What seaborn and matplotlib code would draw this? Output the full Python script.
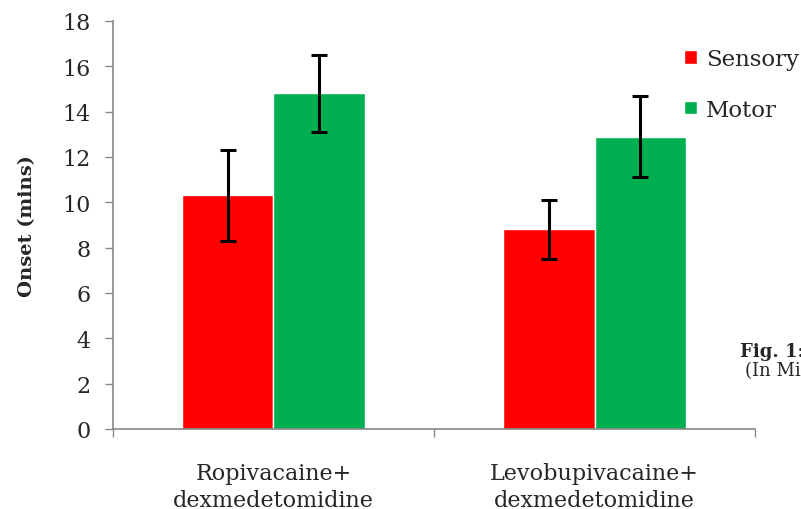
import pandas as pd
import seaborn as sns
import matplotlib.pyplot as plt

# data
groups = ['Ropivacaine+\ndexmedetomidine', 'Levobupivacaine+\ndexmedetomidine']
sensory = [10.3, 8.8]
motor = [14.8, 12.9]
sensory_err = [2.0, 1.3]
motor_err = [1.7, 1.8]
yticks = [0, 2, 4, 6, 8, 10, 12, 14, 16, 18]

df = pd.DataFrame({
    'group': groups * 2,
    'onset': sensory + motor,
    'err': sensory_err + motor_err,
    'type': ['Sensory'] * 2 + ['Motor'] * 2,
})

sns.set_style('white')
plt.rcParams['font.family'] = ['DejaVu Serif']

fig = plt.figure(figsize=(8.01, 5.10), dpi=100)
ax = fig.add_axes([0.141, 0.157, 0.8016, 0.8])

sns.barplot(data=df, x='group', y='onset', hue='type', palette=['#FF0000', '#00B050'],
            width=0.57, saturation=1, errorbar=None, ax=ax, legend=True)

# error bars from bar centers
for bar, (_, row) in zip(ax.patches, df.iterrows()):
    x = bar.get_x() + bar.get_width() / 2
    ax.errorbar(x, bar.get_height(), yerr=row['err'], fmt='none', ecolor='black',
                elinewidth=2.2, capsize=6, capthick=2.2)

ax.set_ylim(0, 18)
ax.set_yticks(yticks)
ax.set_xlim(-0.5, 1.5)
ax.set_xlabel('')
ax.set_ylabel('Onset (mins)', fontsize=14, fontweight='bold')
ax.yaxis.set_label_coords(-0.12, 0.5)
ax.tick_params(axis='y', labelsize=16, length=6, width=1, color='#888888', direction='out', left=True, pad=10)
ax.tick_params(axis='x', labelsize=16, length=0, pad=24)
ax.set_xticks([-0.5, 0.5, 1.5], minor=True)
ax.tick_params(axis='x', which='minor', length=6, width=1, color='#888888', bottom=True)
for s in ['top', 'right']:
    ax.spines[s].set_visible(False)
for s in ['left', 'bottom']:
    ax.spines[s].set_color('#888888')
    ax.spines[s].set_linewidth(1.2)
for lab in ax.get_xticklabels():
    lab.set_linespacing(1.25)

leg = ax.legend(loc='upper left', bbox_to_anchor=(0.843, 0.922), bbox_transform=fig.transFigure,
                frameon=False, fontsize=16.5, handlelength=0.55, handleheight=0.55,
                handletextpad=0.4, labelspacing=1.25, borderaxespad=0)

fig.text(0.924, 0.3, 'Fig. 1:', fontsize=13, fontweight='bold')
fig.text(0.93, 0.262, '(In Minutes)', fontsize=13)

fig.savefig('out.png', dpi=100)
